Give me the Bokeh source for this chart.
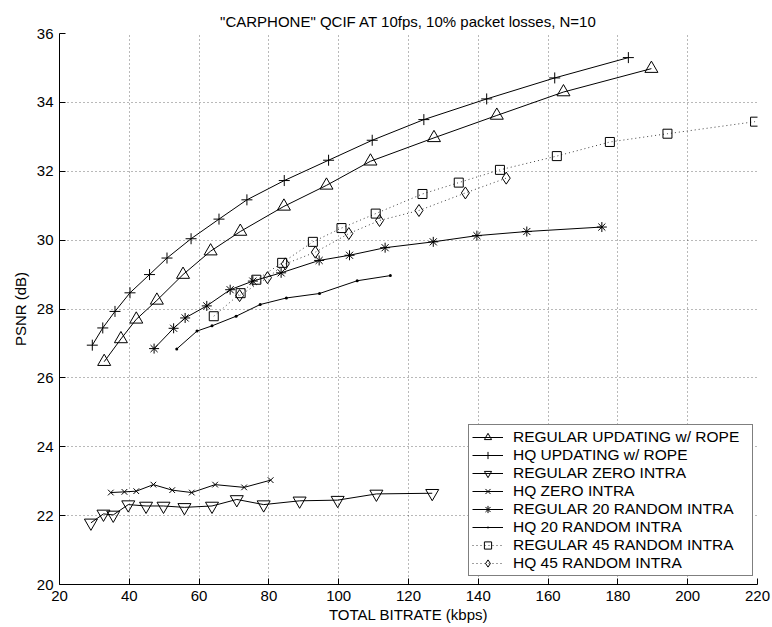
from bokeh.plotting import figure
from bokeh.models import Range1d, FixedTicker, Legend, LegendItem
from bokeh.embed import file_html
from bokeh.resources import INLINE

# ---- data (kbps, PSNR dB) ----
reg_rope_x = [32.8, 37.6, 42.0, 47.9, 55.4, 63.3, 71.8, 84.3, 96.5, 109.1, 127.3, 145.3, 164.4, 189.6]
reg_rope_y = [26.47, 27.13, 27.70, 28.25, 29.00, 29.68, 30.25, 30.98, 31.59, 32.29, 32.97, 33.62, 34.30, 34.98]

hq_rope_x = [29.4, 32.4, 35.9, 40.2, 45.8, 50.8, 57.7, 65.7, 73.7, 84.4, 97.1, 109.6, 124.4, 142.4, 161.9, 183.0]
hq_rope_y = [26.95, 27.45, 27.93, 28.47, 29.00, 29.48, 30.04, 30.61, 31.17, 31.73, 32.32, 32.90, 33.50, 34.10, 34.71, 35.30]

reg_zero_x = [29.0, 32.6, 35.4, 39.7, 44.8, 49.8, 55.8, 63.7, 70.8, 78.5, 88.8, 99.7, 110.8, 126.8]
reg_zero_y = [21.79, 22.05, 22.02, 22.32, 22.28, 22.28, 22.24, 22.28, 22.47, 22.32, 22.43, 22.45, 22.63, 22.65]

hq_zero_x = [34.7, 38.6, 42.0, 46.9, 52.3, 57.9, 64.6, 72.9, 80.5]
hq_zero_y = [22.67, 22.69, 22.71, 22.90, 22.74, 22.67, 22.90, 22.82, 23.03]

reg_r20_x = [47.1, 52.7, 56.0, 62.2, 68.9, 75.4, 83.5, 94.4, 103.1, 113.3, 127.1, 139.6, 153.9, 175.4]
reg_r20_y = [26.85, 27.44, 27.74, 28.09, 28.56, 28.81, 29.05, 29.41, 29.56, 29.78, 29.95, 30.13, 30.25, 30.38]

hq_r20_x = [53.6, 59.4, 63.7, 70.6, 77.5, 85.0, 94.5, 105.3, 114.8]
hq_r20_y = [26.84, 27.36, 27.51, 27.79, 28.13, 28.32, 28.45, 28.82, 28.97]

reg_r45_x = [64.2, 71.9, 76.4, 83.8, 92.6, 100.8, 110.6, 124.0, 134.4, 146.2, 162.5, 177.7, 194.2, 219.3]
reg_r45_y = [27.79, 28.46, 28.85, 29.34, 29.95, 30.35, 30.77, 31.34, 31.67, 32.04, 32.44, 32.85, 33.09, 33.44]

hq_r45_x = [71.6, 79.6, 84.7, 93.3, 102.9, 111.7, 123.0, 136.3, 148.0]
hq_r45_y = [28.39, 28.91, 29.31, 29.65, 30.19, 30.57, 30.86, 31.37, 31.80]

x_ticks = [20, 40, 60, 80, 100, 120, 140, 160, 180, 200, 220]
y_ticks = [20, 22, 24, 26, 28, 30, 32, 34, 36]

title_text = '"CARPHONE" QCIF AT 10fps, 10% packet losses, N=10'
x_label = "TOTAL BITRATE (kbps)"
y_label = "PSNR (dB)"

FONT = "Liberation Sans"
FS = "15px"

p = figure(width=772, height=627, output_backend="svg", toolbar_location=None,
           x_range=Range1d(20, 220), y_range=Range1d(20, 36),
           min_border_left=59, min_border_right=15, min_border_top=33, min_border_bottom=43)
p.background_fill_color = "white"
p.border_fill_color = "white"
p.outline_line_color = None

p.title.text = title_text
p.title.align = "center"
p.title.text_font = FONT
p.title.text_font_size = FS
p.title.text_font_style = "normal"
p.title.text_color = "black"
p.title.standoff = 8

for ax, ticks, lab in ((p.xaxis, x_ticks, x_label), (p.yaxis, y_ticks, y_label)):
    ax.ticker = FixedTicker(ticks=ticks)
    ax.axis_label = lab
    ax.axis_label_text_font = FONT
    ax.axis_label_text_font_size = FS
    ax.axis_label_text_font_style = "normal"
    ax.axis_label_text_color = "black"
    ax.major_label_text_font = FONT
    ax.major_label_text_font_size = FS
    ax.major_label_text_color = "black"
    ax.axis_line_color = "black"
    ax.major_tick_line_color = "black"
    ax.major_tick_in = 6
    ax.major_tick_out = 0
    ax.minor_tick_line_color = None
    ax.major_label_standoff = 6
    ax.axis_label_standoff = 5

p.xaxis.axis_label_standoff = 2

for g in (p.xgrid, p.ygrid):
    g.grid_line_color = "black"
    g.grid_line_alpha = 0.55
    g.grid_line_dash = "1 3"
    g.grid_line_width = 1

items = []

def series(x, y, marker, size, label, dash="solid", fill=None):
    r1 = p.line(x, y, line_color="black", line_width=1, line_dash=dash,
                line_alpha=0.75 if dash != "solid" else 1.0)
    r2 = p.scatter(x, y, marker=marker, size=size, line_color="black",
                   fill_color=fill, line_width=1)
    items.append(LegendItem(label=label, renderers=[r1, r2]))

series(reg_rope_x, reg_rope_y, "triangle", 13, "REGULAR UPDATING w/ ROPE")
series(hq_rope_x, hq_rope_y, "cross", 11, "HQ UPDATING w/ ROPE")
series(reg_zero_x, reg_zero_y, "inverted_triangle", 13, "REGULAR ZERO INTRA")
series(hq_zero_x, hq_zero_y, "x", 8, "HQ ZERO INTRA")
series(reg_r20_x, reg_r20_y, "asterisk", 10, "REGULAR 20 RANDOM INTRA")
series(hq_r20_x, hq_r20_y, "dot", 12, "HQ 20 RANDOM INTRA", fill="black")
series(reg_r45_x, reg_r45_y, "square", 9, "REGULAR 45 RANDOM INTRA", dash="1 3")
series(hq_r45_x, hq_r45_y, "diamond", 12, "HQ 45 RANDOM INTRA", dash="1 3")

legend = Legend(items=items, location=(409, 8))
legend.label_text_font = FONT
legend.label_text_font_size = "15.5px"
legend.label_text_color = "black"
legend.border_line_color = "black"
legend.border_line_width = 1
legend.background_fill_color = "white"
legend.background_fill_alpha = 1.0
legend.glyph_width = 31
legend.glyph_height = 18
legend.label_height = 18
legend.label_width = 236
legend.spacing = 0
legend.padding = 3
legend.margin = 0
legend.label_standoff = 10
p.add_layout(legend, "center")

open("out.html", "w").write(file_html(p, INLINE))
